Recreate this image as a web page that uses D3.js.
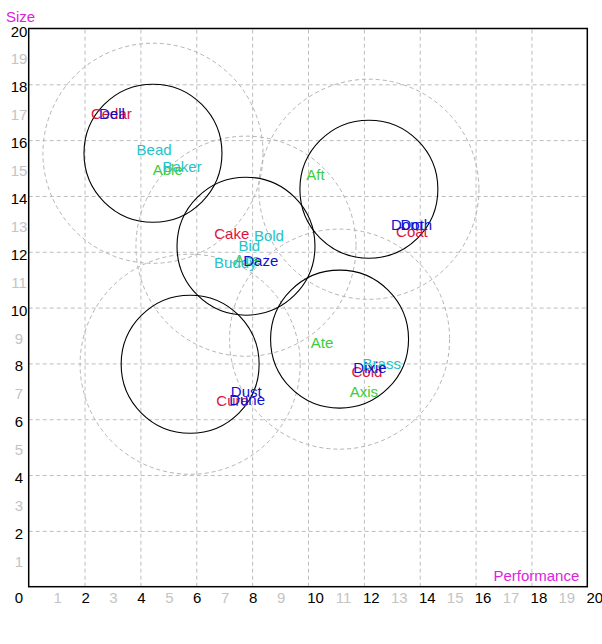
<!DOCTYPE html>
<html>
<head>
<meta charset="utf-8">
<script src="https://cdn.jsdelivr.net/npm/d3@7"></script>
<style>
  html, body { margin: 0; padding: 0; background: #fff; }
  svg { display: block; font-family: "Liberation Sans", Arial, sans-serif; }
</style>
</head>
<body>
<svg id="chart" width="602" height="644"></svg>
<script>
// ---- data ----
const names = ["Able","Ace","Aft","Ate","Axis",
               "Bead","Baker","Bold","Bid","Buddy","Brass",
               "Cedar","Cake","Coat","Cold","Cure",
               "Dell","Daze","Dom","Doth","Dixie","Dust","Dune"];
const perf  = [4.98, 7.82, 10.27, 10.5, 12.0,
               4.49, 5.49, 8.6, 7.9, 7.4, 12.64,
               2.96, 7.27, 13.72, 12.11, 7.3,
               2.98, 8.31, 13.54, 13.88, 12.22, 7.79, 7.82];
const size  = [14.94, 11.72, 14.78, 8.75, 7.0,
               15.68, 15.06, 12.59, 12.21, 11.6, 8.0,
               16.97, 12.67, 12.74, 7.7, 6.66,
               16.97, 11.67, 12.99, 12.99, 7.84, 7.0, 6.71];
const groupColors = { A: "#3ccc3c", B: "#22c3c9", C: "#dc143c", D: "#1010d0" };

const clusterX = [4.45, 7.78, 12.18, 11.13, 5.78];
const clusterY = [15.53, 12.2, 14.24, 8.87, 7.97];
const innerRadius = 2.47;
const outerRadius = 3.94;

const tickValues = d3.range(0, 21);
const gridValues = [2, 4, 6, 8, 10, 12, 14, 16, 18];
const xTitle = "Performance";
const yTitle = "Size";

// ---- layout ----
const L = 28.7, R = 587.3, T = 28.5, B = 586.7;
const x = d3.scaleLinear().domain([0, 20]).range([L, R]);
const y = d3.scaleLinear().domain([0, 20]).range([B, T]);

const svg = d3.select("#chart");

// grid
svg.append("g")
  .attr("transform", `translate(0,${B})`)
  .call(d3.axisBottom(x).tickValues(gridValues).tickSize(-(B - T)).tickFormat(""))
  .call(g => g.select(".domain").remove())
  .call(g => g.selectAll("line").attr("stroke", "#bdbdbd").attr("stroke-dasharray", "4,3"));
svg.append("g")
  .attr("transform", `translate(${L},0)`)
  .call(d3.axisLeft(y).tickValues(gridValues).tickSize(-(R - L)).tickFormat(""))
  .call(g => g.select(".domain").remove())
  .call(g => g.selectAll("line").attr("stroke", "#bdbdbd").attr("stroke-dasharray", "4,3"));

// tick labels
const xAxis = svg.append("g")
  .attr("transform", `translate(0,${B})`)
  .call(d3.axisBottom(x).tickValues(tickValues.filter(v => v > 0)).tickSize(0).tickPadding(0))
  .call(g => g.select(".domain").remove());
xAxis.selectAll("text")
  .attr("font-size", 15)
  .attr("font-family", "Liberation Sans, Arial, sans-serif")
  .attr("fill", d => d % 2 === 0 ? "#000" : "#c4c4c4")
  .attr("dy", null)
  .attr("y", 16)
  .attr("x", d => d >= 10 ? 7 : 0.5);

const yAxis = svg.append("g")
  .attr("transform", `translate(0,0)`)
  .call(d3.axisLeft(y).tickValues(tickValues).tickSize(0).tickPadding(0))
  .call(g => g.select(".domain").remove());
yAxis.selectAll("text")
  .attr("font-size", 15)
  .attr("font-family", "Liberation Sans, Arial, sans-serif")
  .attr("text-anchor", "middle")
  .attr("fill", d => d % 2 === 0 ? "#000" : "#c4c4c4")
  .attr("x", 19)
  .attr("dy", null)
  .attr("y", d => d === 0 ? 16 : 7.5);

// frame
svg.append("rect")
  .attr("x", L).attr("y", T)
  .attr("width", R - L).attr("height", B - T)
  .attr("fill", "none").attr("stroke", "#000").attr("stroke-width", 1.5);

// cluster circles
const cl = d3.range(clusterX.length);
svg.append("g").selectAll("circle").data(cl).join("circle")
  .attr("cx", i => x(clusterX[i])).attr("cy", i => y(clusterY[i]))
  .attr("r", x(outerRadius) - x(0))
  .attr("fill", "none").attr("stroke", "#b4b4b4").attr("stroke-dasharray", "4,3");
svg.append("g").selectAll("circle").data(cl).join("circle")
  .attr("cx", i => x(clusterX[i])).attr("cy", i => y(clusterY[i]))
  .attr("r", x(innerRadius) - x(0))
  .attr("fill", "none").attr("stroke", "#000").attr("stroke-width", 1.1);

// point labels
svg.append("g").selectAll("text").data(d3.range(names.length)).join("text")
  .attr("x", i => x(perf[i])).attr("y", i => y(size[i]))
  .attr("text-anchor", "middle")
  .attr("dominant-baseline", "central")
  .attr("font-size", 15)
  .attr("fill", i => groupColors[names[i][0]])
  .text(i => names[i]);

// titles
svg.append("text").attr("x", 6).attr("y", 22)
  .attr("font-size", 15).attr("fill", "#dd22dd").text(yTitle);
svg.append("text").attr("x", R - 8).attr("y", B - 6)
  .attr("text-anchor", "end")
  .attr("font-size", 15).attr("fill", "#dd22dd").text(xTitle);
</script>
</body>
</html>
